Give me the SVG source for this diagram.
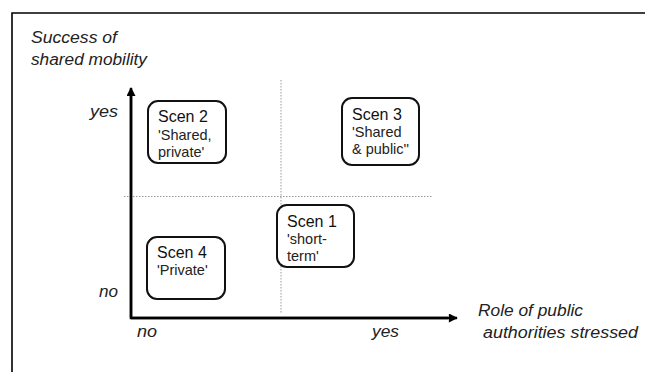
<svg xmlns="http://www.w3.org/2000/svg" width="645" height="372" viewBox="0 0 645 372">
<style>
.frame{fill:none;stroke:#000;stroke-width:1.6}
.box{fill:#fff;stroke:#111;stroke-width:2}
.axis{fill:none;stroke:#000;stroke-width:2.5}
.dot{fill:none;stroke:#999;stroke-width:1;stroke-dasharray:1.5 1.5}
.t1{font-family:"Liberation Sans",Arial,sans-serif;font-size:16px;fill:#111}
.t2{font-family:"Liberation Sans",Arial,sans-serif;font-size:14.5px;fill:#222}
.lab{font-family:"Liberation Sans",Arial,sans-serif;font-size:16px;font-style:italic;fill:#222}
</style>
<defs>
<marker id="ah" viewBox="0 0 10 10" refX="9" refY="5" markerWidth="4" markerHeight="3.6" markerUnits="strokeWidth" orient="auto">
<path d="M0,0 L10,5 L0,10 z" fill="#000"/>
</marker>
</defs>
<rect width="645" height="372" fill="#fff"/>
<path class="frame" d="M12,372 V13 H645"/>
<g id="connectors">
<line class="dot" x1="281" y1="80" x2="281" y2="313"/>
<line class="dot" x1="124" y1="196.5" x2="432" y2="196.5"/>
<polyline class="axis" points="131,95 131,318 448,318"/>
<line class="axis" x1="131" y1="318" x2="131" y2="88" marker-end="url(#ah)"/>
<line class="axis" x1="131" y1="318" x2="457" y2="318" marker-end="url(#ah)"/>
</g>
<g id="labels">
<text class="lab" x="31" y="43" textLength="86" lengthAdjust="spacingAndGlyphs">Success of</text>
<text class="lab" x="31" y="65" textLength="116" lengthAdjust="spacingAndGlyphs">shared mobility</text>
<text class="lab" x="90" y="117" textLength="28" lengthAdjust="spacingAndGlyphs">yes</text>
<text class="lab" x="99" y="297" textLength="19" lengthAdjust="spacingAndGlyphs">no</text>
<text class="lab" x="137" y="337" textLength="20" lengthAdjust="spacingAndGlyphs">no</text>
<text class="lab" x="372" y="337" textLength="27" lengthAdjust="spacingAndGlyphs">yes</text>
<text class="lab" x="478" y="316" textLength="105" lengthAdjust="spacingAndGlyphs">Role of public</text>
<text class="lab" x="483" y="338" textLength="155" lengthAdjust="spacingAndGlyphs">authorities  stressed</text>
</g>
<g id="scen2">
<rect class="box" x="148" y="101" width="78" height="62" rx="10"/>
<text class="t1" x="158" y="122">Scen 2</text>
<text class="t2" x="158" y="140">'Shared,</text>
<text class="t2" x="158" y="157">private'</text>
</g>
<g id="scen3">
<rect class="box" x="342" y="98" width="77" height="67" rx="10"/>
<text class="t1" x="352" y="120">Scen 3</text>
<text class="t2" x="352" y="137">'Shared</text>
<text class="t2" x="352" y="154">&amp; public''</text>
</g>
<g id="scen1">
<rect class="box" x="277" y="205" width="77" height="62" rx="10"/>
<text class="t1" x="287" y="227">Scen 1</text>
<text class="t2" x="287" y="244">'short-</text>
<text class="t2" x="287" y="261">term'</text>
</g>
<g id="scen4">
<rect class="box" x="147" y="237" width="78" height="62" rx="10"/>
<text class="t1" x="157" y="258">Scen 4</text>
<text class="t2" x="157" y="275">'Private'</text>
</g>
</svg>
